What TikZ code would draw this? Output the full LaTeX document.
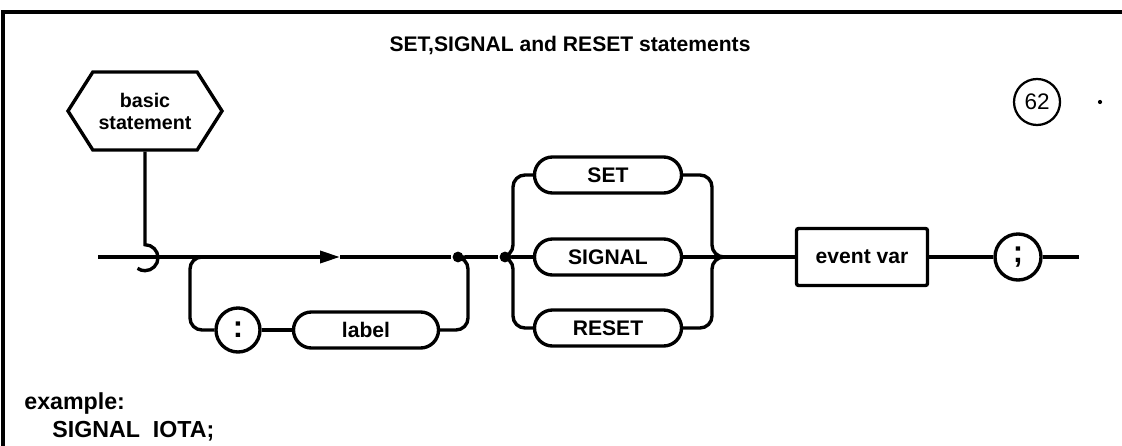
\documentclass[tikz,border=0pt]{standalone}
\usepackage{fontspec}
\setmainfont{Liberation Sans}
\usetikzlibrary{shapes.geometric, shapes.symbols, arrows.meta, positioning}

\begin{document}
\begin{tikzpicture}[
    x=0.025cm, y=-0.025cm,
    line width=2.4pt,
    txt/.style={font=\fontsize{15}{18}\selectfont\bfseries},
    big/.style={font=\fontsize{16.5}{20}\selectfont\bfseries},
    hexa/.style={signal, signal to=west and east, signal pointer angle=115, draw, align=center, minimum width=3.85cm, minimum height=1.95cm, inner sep=0pt, font=\fontsize{14}{15.6}\selectfont\bfseries},
    terminal/.style={txt, draw, rounded corners=0.45cm, minimum width=3.675cm, minimum height=0.9cm, inner sep=0pt},
    nonterm/.style={txt, draw, rounded corners=1.5pt, minimum width=3.275cm, minimum height=1.425cm},
    symb/.style={draw, circle, minimum size=1.1cm, inner sep=0pt, font=\fontsize{22}{22}\selectfont\bfseries},
    junction/.style={circle, fill, inner sep=0pt, minimum size=0.27cm},
    arrow/.style={-{Triangle[length=0.5cm,width=0.3cm]}}
]
\useasboundingbox (0,0) rectangle (1122,446);

% frame
\draw (3,446) -- (3,12) -- (1122,12);

\node (title) [txt] at (570,45) {SET,SIGNAL and RESET statements};
\node (basic) [hexa] at (145,111) {basic\\statement};
\node (num) [draw, circle, minimum size=1.15cm, inner sep=0pt, line width=1.6pt, font=\fontsize{16}{16}\selectfont] at (1037,102) {62};
\node (speck) [junction, minimum size=3pt] at (1100,102) {};

% main line
\coordinate (in) at (98,257);
\coordinate (mid) at (340,257);
\coordinate (bypass) at (205,257);
\node (join) [junction] at (458,257) {};
\node (fork) [junction] at (505,257) {};
\node (colon) [symb] at (238,330) {:};
\node (label) [terminal, minimum width=3.625cm] at (366,330) {label};
\node (set) [terminal] at (608,175) {SET};
\node (signal) [terminal] at (608,257) {SIGNAL};
\node (reset) [terminal] at (608,328) {RESET};
\coordinate (merge) at (716,257);
\node (event) [nonterm] at (862,257) {event var};
\node (semi) [symb, minimum size=1.15cm] at (1018,257) {;};
\coordinate (out) at (1079,257);

\node (ex) [big, anchor=west] at (18,403) {example:};
\node (code) [big, anchor=west] at (46,431) {SIGNAL\ \ IOTA;};

\draw [arrow] (in) -- (mid);
\draw (mid) -- (join) -- (fork) -- (signal);
\draw (basic.south) -- ++(0,93) arc[start angle=-90, end angle=125, radius=13];

% optional label
\draw [rounded corners=0.3cm] (bypass) -| (190,300) |- (colon);
\draw (colon) -- (label);
\draw [rounded corners=0.3cm] (label) -| (468,290) |- (join);

% choice of keyword
\draw [rounded corners=0.3cm] (fork) -| (513,220) |- (set);
\draw [rounded corners=0.3cm] (fork) -| (513,290) |- (reset);
\draw [rounded corners=0.3cm] (set) -| (712,220) |- (merge);
\draw [rounded corners=0.3cm] (reset) -| (712,290) |- (merge);
\draw (signal) -- (merge) -- (event);
\draw (event) -- (semi);
\draw (semi) -- (out);

\end{tikzpicture}
\end{document}
